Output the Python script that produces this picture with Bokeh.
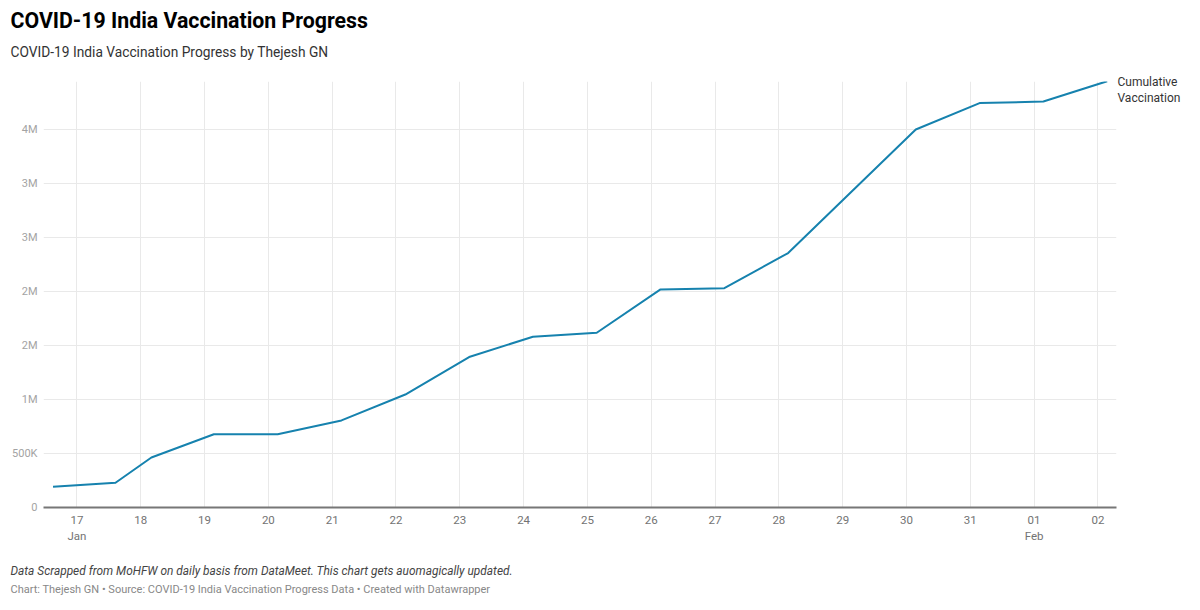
import pandas as pd
from bokeh.plotting import figure
from bokeh.models import FixedTicker, Range1d, Title, LinearAxis
from bokeh.embed import file_html
from bokeh.resources import INLINE

# ---- data ----
dates = [
    "2021-01-16 15:00", "2021-01-17 14:30", "2021-01-18 04:00", "2021-01-19 03:30",
    "2021-01-20 03:30", "2021-01-21 03:30", "2021-01-22 03:30", "2021-01-23 03:30",
    "2021-01-24 03:30", "2021-01-25 03:30", "2021-01-26 03:30", "2021-01-27 03:30",
    "2021-01-28 03:30", "2021-01-30 03:30", "2021-01-31 03:30", "2021-02-01 03:30",
    "2021-02-02 03:30",
]
doses = [
    192000, 229000, 463000, 678000,
    678000, 806000, 1046000, 1393000,
    1581000, 1618000, 2019000, 2031000,
    2356000, 3500000, 3744000, 3759000,
    3947000,
]
series_name = "Cumulative\nVaccination"

x_tick_dates = [
    "2021-01-17", "2021-01-18", "2021-01-19", "2021-01-20", "2021-01-21",
    "2021-01-22", "2021-01-23", "2021-01-24", "2021-01-25", "2021-01-26",
    "2021-01-27", "2021-01-28", "2021-01-29", "2021-01-30", "2021-01-31",
    "2021-02-01", "2021-02-02",
]
x_tick_labels = [
    "17\nJan", "18", "19", "20", "21", "22", "23", "24", "25", "26",
    "27", "28", "29", "30", "31", "01\nFeb", "02",
]
y_ticks = [0, 500000, 1000000, 1500000, 2000000, 2500000, 3000000, 3500000]
y_tick_labels = ["0", "500K", "1M", "2M", "2M", "3M", "3M", "4M"]

title_text = "COVID-19 India Vaccination Progress"
subtitle_text = "COVID-19 India Vaccination Progress by Thejesh GN"
note_text = "Data Scrapped from MoHFW on daily basis from DataMeet. This chart gets auomagically updated."
credit_text = "Chart: Thejesh GN \u2022 Source: COVID-19 India Vaccination Progress Data \u2022 Created with Datawrapper"

# ---- helpers ----
def to_ms(s):
    return pd.Timestamp(s).value / 1e6

x_vals = pd.to_datetime(dates)
x_ticks_ms = [to_ms(d) for d in x_tick_dates]

FONT = "Roboto"
W, H = 1200, 610
B_LEFT, B_RIGHT, B_TOP, B_BOTTOM = 43, 84, 81, 103
Y_END = 3944000

p = figure(
    width=W, height=H,
    x_axis_type="datetime",
    x_range=Range1d(to_ms("2021-01-16 11:25"), to_ms("2021-02-02 07:00")),
    y_range=Range1d(0, Y_END),
    output_backend="svg", toolbar_location=None,
    min_border_left=B_LEFT, min_border_right=B_RIGHT,
    min_border_top=B_TOP, min_border_bottom=B_BOTTOM,
)
p.title.visible = False
p.outline_line_color = None
p.background_fill_color = "white"
p.border_fill_color = "white"

# grid
p.grid.grid_line_color = "#e9e9e9"
p.grid.grid_line_width = 1

# x axis
p.xaxis.ticker = FixedTicker(ticks=x_ticks_ms, minor_ticks=[])
p.xaxis.major_label_overrides = {t: lab for t, lab in zip(x_ticks_ms, x_tick_labels)}
p.xaxis.axis_line_color = "#777777"
p.xaxis.axis_line_width = 2
p.xaxis.major_tick_line_color = None
p.xaxis.minor_tick_line_color = None
p.xaxis.major_tick_out = 0
p.xaxis.major_tick_in = 0
p.xaxis.major_label_standoff = 5
p.xaxis.major_label_text_font = FONT
p.xaxis.major_label_text_font_size = "11.5px"
p.xaxis.major_label_text_line_height = 1.15
p.xaxis.major_label_text_color = "#737373"

# y axis
p.yaxis.ticker = FixedTicker(ticks=y_ticks, minor_ticks=[])
p.yaxis.major_label_overrides = {t: lab for t, lab in zip(y_ticks, y_tick_labels)}
p.yaxis.axis_line_color = None
p.yaxis.major_tick_line_color = None
p.yaxis.minor_tick_line_color = None
p.yaxis.major_tick_out = 0
p.yaxis.major_tick_in = 0
p.yaxis.major_label_standoff = 6
p.yaxis.major_label_text_font = FONT
p.yaxis.major_label_text_font_size = "11px"
p.yaxis.major_label_text_color = "#a3a3a3"

# line
p.line(x=x_vals, y=doses, line_color="#1682ae", line_width=2, line_join="round")

# series label at the line end: a right-side axis with a single labelled tick,
# placed so the two-line block hangs just below the last point
frame_h = H - B_TOP - B_BOTTOM
label_y = doses[-1] - 8.5 * Y_END / frame_h
label_axis = LinearAxis(
    ticker=FixedTicker(ticks=[label_y], minor_ticks=[]),
    major_label_overrides={label_y: series_name},
    axis_line_color=None, major_tick_line_color=None, minor_tick_line_color=None,
    major_tick_out=0, major_tick_in=0, major_label_standoff=1,
    major_label_text_font=FONT, major_label_text_font_size="12px",
    major_label_text_color="#333333", major_label_text_line_height=1.15,
)
p.add_layout(label_axis, "right")

# titles (above: first added is nearest the frame)
p.add_layout(Title(text=subtitle_text, align="left", offset=-33, standoff=44,
                   text_font=FONT, text_font_size="13.75px", text_font_style="normal",
                   text_color="#333333"), "above")
p.add_layout(Title(text=title_text, align="left", offset=-33, standoff=-27,
                   text_font=FONT, text_font_size="21.3px", text_font_style="bold",
                   text_color="#000000"), "above")
# footer (below: after the x axis)
p.add_layout(Title(text=note_text, align="left", offset=-33, standoff=32,
                   text_font=FONT, text_font_size="11.9px", text_font_style="italic",
                   text_color="#444444"), "below")
p.add_layout(Title(text=credit_text, align="left", vertical_align="top", offset=-33,
                   standoff=-21, text_font=FONT, text_font_size="11px",
                   text_font_style="normal", text_color="#888888"), "below")

open("out.html", "w").write(file_html(p, INLINE))
